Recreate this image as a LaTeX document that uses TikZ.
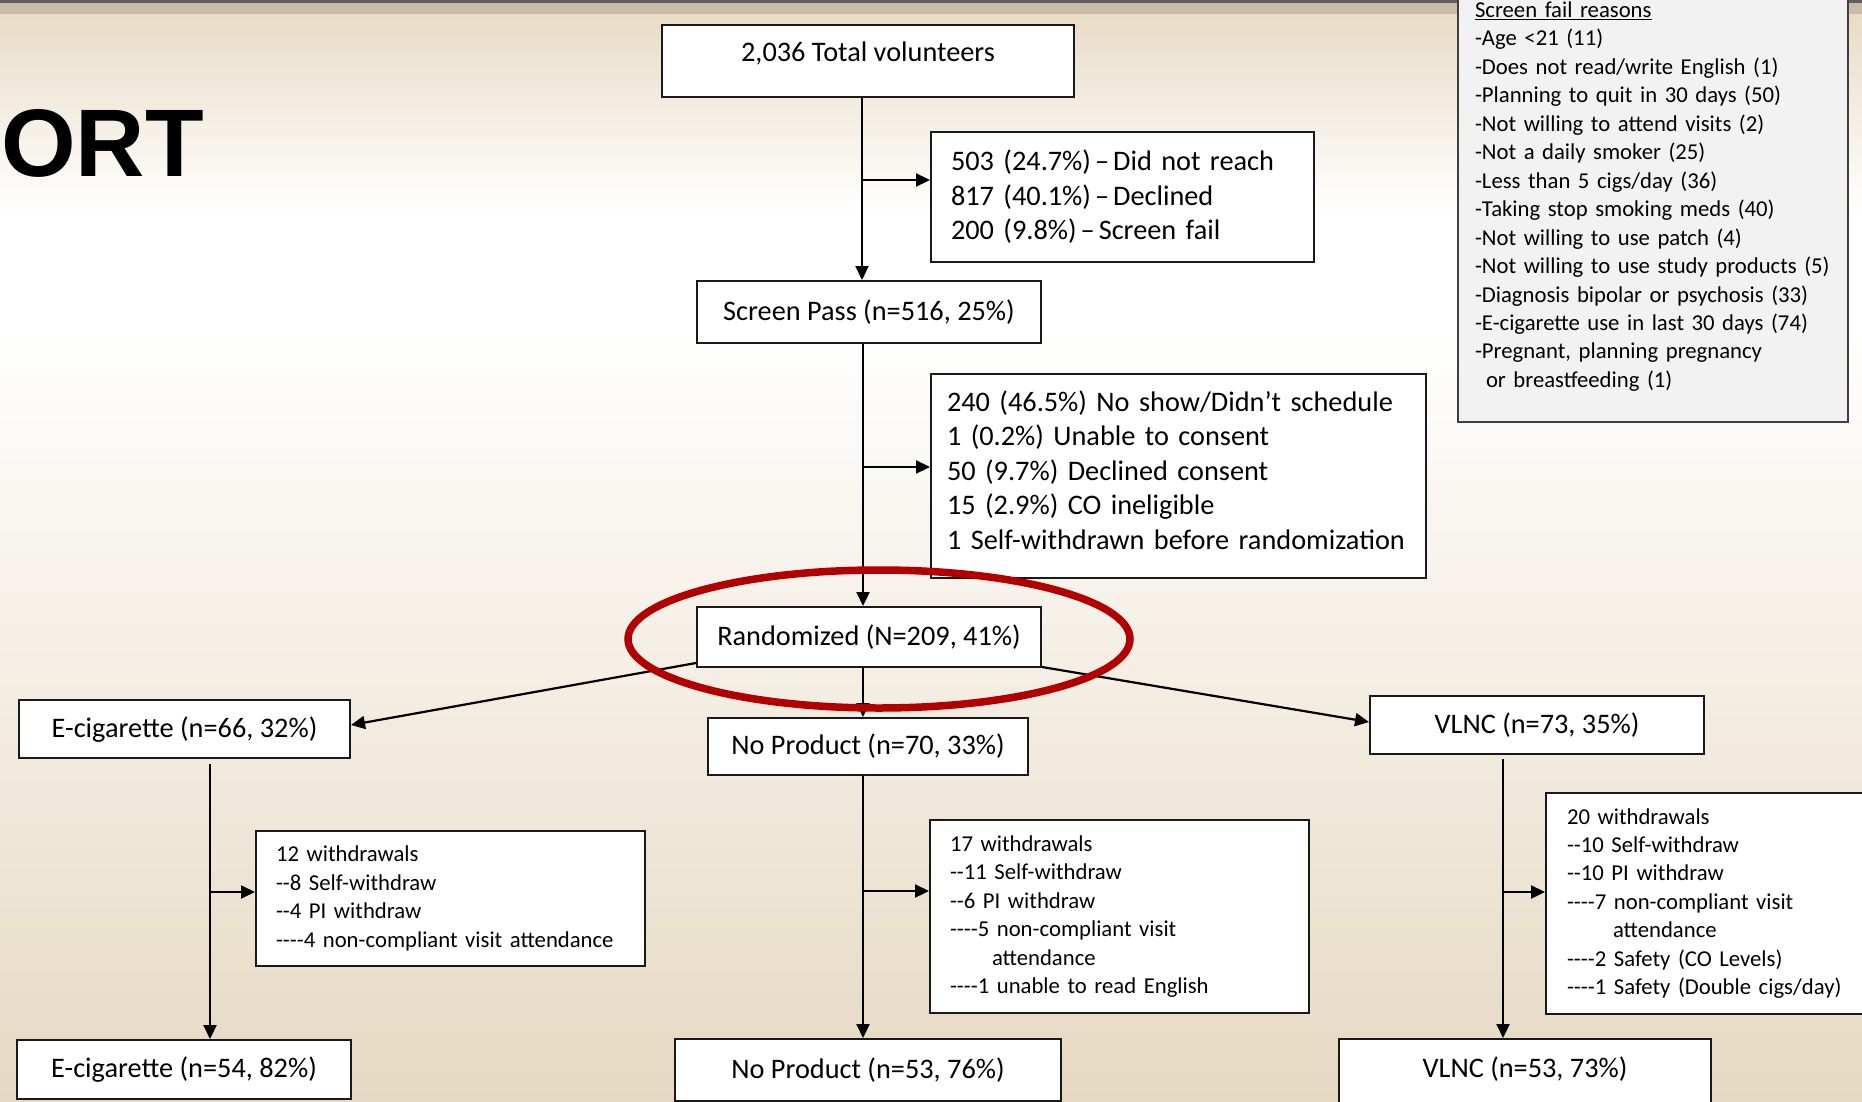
\documentclass[tikz,border=0pt]{standalone}
\usepackage{fontspec}
\setmainfont{Carlito}
\newfontfamily\headfont{Liberation Sans}
\usetikzlibrary{arrows.meta,positioning}
\definecolor{tanTop}{RGB}{232,220,198}
\definecolor{tanBot}{RGB}{230,217,194}
\definecolor{barDark}{RGB}{94,94,94}
\definecolor{barTan}{RGB}{200,188,168}
\definecolor{ringRed}{RGB}{178,0,0}
\definecolor{noteGray}{RGB}{242,242,242}
\newcommand{\mainsize}{\fontsize{28.3}{34.6}\selectfont}
\newcommand{\notesize}{\fontsize{22.7}{28.45}\selectfont}
\newcommand{\dsh}{\hspace{4pt}–\hspace{4pt}}
\frenchspacing
\begin{document}
\begin{tikzpicture}[x=1pt, y=-1pt,
		box/.style={draw=black!90, line width=2pt, fill=white, inner sep=0pt, anchor=north west, font=\mainsize},
		groupbox/.style={box, text height=21pt, text depth=5pt},
		listbox/.style={box, align=left, inner xsep=20pt},
		notebox/.style={listbox, font=\notesize},
		arr/.style={line width=2.2pt, -{Triangle[length=14pt,width=13pt]}},
		ring/.style={draw=ringRed, line width=7.5pt}]
	\useasboundingbox (0,0) rectangle (1862,1102);
	% background
	\fill[barDark] (0,0) rectangle (1862,3);
	\fill[barTan] (0,3) rectangle (1862,15);
	\shade[top color=tanTop, bottom color=white] (0,15) rectangle (1862,212);
	\fill[white] (0,211) rectangle (1862,330);
	\shade[top color=white, bottom color=tanBot] (0,329) rectangle (1862,1102);
	\node[font={\headfont\bfseries\fontsize{96}{96}\selectfont}, anchor=base west, inner sep=0pt] (title) at (1,177) {ORT};
	
	% screening
	\node[box, minimum width=412pt, minimum height=72pt, text depth=19.5pt] (total) at (661,24) {2,036 Total volunteers};
	\node[listbox, text width=343pt, minimum height=130pt] (reach) at (930,131) {503 (24.7\%)\dsh Did not reach\\817 (40.1\%)\dsh Declined\\200 (9.8\%)\dsh Screen fail};
	\node[groupbox, minimum width=344pt, minimum height=62pt] (pass) at (696,280) {Screen Pass (n=516, 25\%)};
	\node[listbox, inner xsep=16pt, text width=463pt, minimum height=204pt] (consent) at (930,373) {240 (46.5\%) No show/Didn’t schedule\\1 (0.2\%) Unable to consent\\50 (9.7\%) Declined consent\\15 (2.9\%) CO ineligible\\1 Self-withdrawn before randomization\\[-22.5pt]\mbox{}};
	\node[groupbox, minimum width=344pt, minimum height=60pt] (rand) at (696,606) {Randomized (N=209, 41\%)};
	
	% screen fail reasons
	\node[notebox, fill=noteGray, draw=black!75, inner xsep=17pt, text width=356pt, minimum height=451pt] (fail) at (1457,-30) {\underline{Screen fail reasons}\\-Age <21 (11)\\-Does not read/write English (1)\\-Planning to quit in 30 days (50)\\-Not willing to attend visits (2)\\-Not a daily smoker (25)\\-Less than 5 cigs/day (36)\\-Taking stop smoking meds (40)\\-Not willing to use patch (4)\\-Not willing to use study products (5)\\-Diagnosis bipolar or psychosis (33)\\-E-cigarette use in last 30 days (74)\\-Pregnant, planning pregnancy\\\hspace*{11pt}or breastfeeding (1)};
	
	% arms
	\node[groupbox, minimum width=331pt, minimum height=58pt] (ecig1) at (18,699) {E-cigarette (n=66, 32\%)};
	\node[groupbox, minimum width=320pt, minimum height=57pt] (np1) at (707,717) {No Product (n=70, 33\%)};
	\node[groupbox, minimum width=334pt, minimum height=58pt] (vlnc1) at (1369,695) {VLNC (n=73, 35\%)};
	
	\node[notebox, text width=349pt, minimum height=135pt] (ecigw) at (255,830) {12 withdrawals\\-{}-8 Self-withdraw\\-{}-4 PI withdraw\\-{}-{}-{}-4 non-compliant visit attendance};
	\node[notebox, text width=339pt, minimum height=193pt] (npw) at (929,819) {17 withdrawals\\-{}-11 Self-withdraw\\-{}-6 PI withdraw\\-{}-{}-{}-5 non-compliant visit\\\hspace*{42pt}attendance\\-{}-{}-{}-1 unable to read English};
	\node[notebox, inner xsep=21pt, text width=293pt, minimum height=221pt] (vlncw) at (1545,792) {20 withdrawals\\-{}-10 Self-withdraw\\-{}-10 PI withdraw\\-{}-{}-{}-7 non-compliant visit\\\hspace*{46pt}attendance\\-{}-{}-{}-2 Safety (CO Levels)\\-{}-{}-{}-1 Safety (Double cigs/day)};
	
	\node[groupbox, minimum width=334pt, minimum height=59pt] (ecig2) at (16,1039) {E-cigarette (n=54, 82\%)};
	\node[groupbox, minimum width=386pt, minimum height=62pt] (np2) at (674,1038) {No Product (n=53, 76\%)};
	\node[groupbox, minimum width=372pt, minimum height=85pt, text depth=30pt] (vlnc2) at (1338,1038) {VLNC (n=53, 73\%)};
	
	% connectors
	\coordinate (b1) at (862,180);
	\coordinate (b2) at (863,467);
	\coordinate (b3) at (210,892);
	\coordinate (b4) at (863,891);
	\coordinate (b5) at (1503,892);
	\draw[arr] (total.south -| b1) -- (pass.north -| b1);
	\draw[arr] (b1) -- (b1 -| reach.west);
	\draw[arr] (pass.south -| b2) -- (rand.north -| b2);
	\draw[arr] (b2) -- (b2 -| consent.west);
	\draw[arr] (rand.south -| b4) -- (np1.north -| b4);
	\draw[arr] ([yshift=5pt]rand.south west) -- ([yshift=4pt]ecig1.east);
	\draw[arr] ([yshift=1pt]rand.south east) -- ([yshift=3pt]vlnc1.west);
	\draw[arr] ([yshift=-5pt]ecig1.south -| b3) -- (ecig2.north -| b3);
	\draw[arr] (b3) -- (b3 -| ecigw.west);
	\draw[arr] (np1.south -| b4) -- (np2.north -| b4);
	\draw[arr] (b4) -- (b4 -| npw.west);
	\draw[arr] ([yshift=-4pt]vlnc1.south -| b5) -- (vlnc2.north -| b5);
	\draw[arr] (b5) -- (b5 -| vlncw.west);
	
	% highlight
	\draw[ring] ([xshift=10pt,yshift=-2pt]rand.center) ellipse [x radius=251, y radius=69];
\end{tikzpicture}
\end{document}
